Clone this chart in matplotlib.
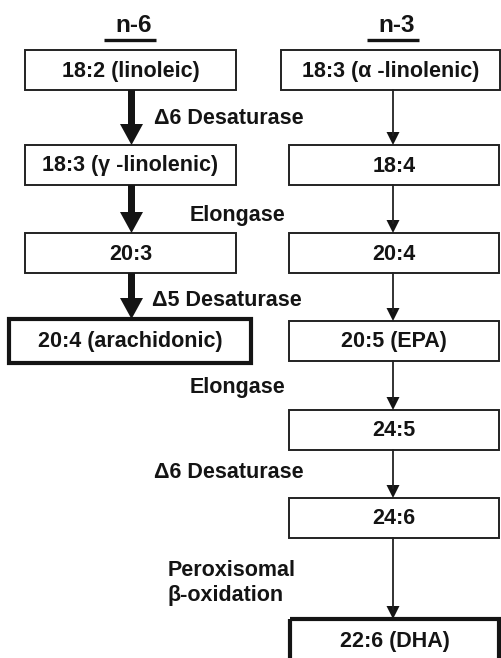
import matplotlib
matplotlib.use("Agg")
from matplotlib import pyplot as plt
from matplotlib.patches import Rectangle

# labels of the two pathways
n6_title = "n-6"
n3_title = "n-3"
n6_steps = ["18:2 (linoleic)", "18:3 (\u03b3 -linolenic)", "20:3", "20:4 (arachidonic)"]
n3_steps = ["18:3 (\u03b1 -linolenic)", "18:4", "20:4", "20:5 (EPA)", "24:5", "24:6", "22:6 (DHA)"]
enzymes = ["\u03946 Desaturase", "Elongase", "\u03945 Desaturase", "Elongase",
           "\u03946 Desaturase", "Peroxisomal\n\u03b2-oxidation"]
# end products drawn with a heavy frame
n6_final = [False, False, False, True]
n3_final = [False, False, False, False, False, False, True]

# layout in pixels (y grows downwards)
W, H = 501, 658
row_top = [50, 145, 233, 321, 410, 498, 621]
BOX_H = 40
# box extents per column, (x0, x1) for each row
n6_box_x = [(25, 236), (25, 236), (25, 236), (9, 251)]
n3_box_x = [(281, 500), (289, 499), (289, 499), (289, 499), (289, 499), (289, 499), (290, 499)]
ENZ_Y = [118, 216, 300, 388, 473, 583]
ENZ_X = [154, 190, 152, 190, 154, 168]

plt.rcParams['font.family'] = ['Liberation Sans', 'DejaVu Sans']
plt.rcParams['font.weight'] = 'bold'

fig = plt.figure(figsize=(W / 100, H / 100), dpi=100)
ax = fig.add_axes([0, 0, 1, 1])
ax.set_xlim(0, W)
ax.set_ylim(H, 0)
ax.axis('off')

FS = 15.5
INK = '#141414'


def draw_box(x0, x1, top, label, heavy):
    if heavy:
        rect = Rectangle((x0, top - 2), x1 - x0, BOX_H + 4, fill=False, lw=3.0, ec=INK)
    else:
        rect = Rectangle((x0, top), x1 - x0, BOX_H, fill=False, lw=1.4, ec='#222222')
    ax.add_patch(rect)
    ax.text((x0 + x1) / 2, top + BOX_H / 2 + 1, label, ha='center', va='center',
            fontsize=FS, fontweight='bold', color=INK)


# column titles (text sits a little right of its underline)
for title, cx in [(n6_title, 130.5), (n3_title, 393.5)]:
    ax.text(cx + 3.5, 26, title, ha='center', va='center', fontsize=FS + 2,
            fontweight='bold', color=INK)
    ax.plot([cx - 26, cx + 26], [39.5, 39.5], color=INK, lw=2.4, solid_capstyle='butt')

# n-6 column
for i, (lab, heavy) in enumerate(zip(n6_steps, n6_final)):
    x0, x1 = n6_box_x[i]
    draw_box(x0, x1, row_top[i], lab, heavy)
    if i > 0:
        y0 = row_top[i - 1] + BOX_H
        y1 = row_top[i] - (2 if heavy else 0)
        ax.arrow(131.5, y0, 0, y1 - y0, width=7, head_width=23, head_length=21,
                 length_includes_head=True, color=INK, lw=0)

# n-3 column
cx = 393
for i, (lab, heavy) in enumerate(zip(n3_steps, n3_final)):
    x0, x1 = n3_box_x[i]
    draw_box(x0, x1, row_top[i], lab, heavy)
    if i > 0:
        y0 = row_top[i - 1] + BOX_H
        y1 = row_top[i] - (2 if heavy else 0)
        ax.plot([cx, cx], [y0, y1 - 10], color='#222222', lw=1.3)
        ax.arrow(cx, y1 - 13, 0, 13, width=1.3, head_width=13, head_length=13,
                 length_includes_head=True, color=INK, lw=0)

# enzyme labels
for lab, x, y in zip(enzymes, ENZ_X, ENZ_Y):
    ax.text(x, y, lab, ha='left', va='center', fontsize=FS, fontweight='bold',
            color=INK, linespacing=1.25)

fig.savefig("out.png", dpi=100)
